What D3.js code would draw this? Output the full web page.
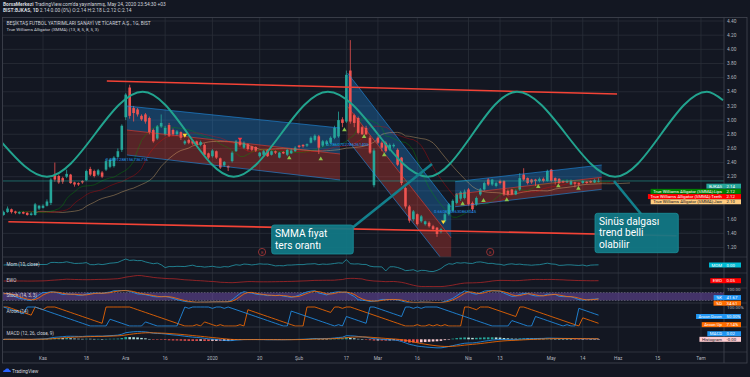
<!DOCTYPE html>
<html>
<head>
<meta charset="utf-8">
<script src="https://cdn.jsdelivr.net/npm/d3@7"></script>
<style>
  body { margin: 0; background: #131722; }
  text { font-family: Roboto, "Noto Sans", "DejaVu Sans", sans-serif; }
</style>
</head>
<body>
<svg id="chart" width="750" height="377"></svg>
<script>
// ---- data ----
const firstBar = -10; // bar index of the first candle (bar 0 = 1 Kas 2019)

// [open, high, low, close] for each daily bar
const ohlc = [
  [1.66,1.72,1.65,1.70],[1.70,1.78,1.69,1.75],[1.74,1.75,1.68,1.70],[1.71,1.72,1.67,1.69],
  [1.68,1.71,1.67,1.70],[1.70,1.71,1.67,1.68],[1.69,1.70,1.65,1.66],[1.66,1.70,1.65,1.68],
  [1.66,1.83,1.65,1.81],[1.75,1.80,1.73,1.79],[1.76,1.81,1.75,1.79],[1.79,1.88,1.78,1.85],
  [1.83,2.18,1.80,2.16],[2.22,2.40,2.13,2.16],[2.21,2.23,2.10,2.12],[2.18,2.20,2.10,2.13],
  [2.20,2.30,2.18,2.24],[2.23,2.24,2.10,2.11],[2.12,2.13,2.06,2.09],[2.11,2.12,2.07,2.09],
  [2.14,2.15,2.10,2.12],[2.15,2.30,2.14,2.28],[2.31,2.34,2.21,2.23],[2.28,2.30,2.19,2.21],
  [2.23,2.31,2.21,2.29],[2.26,2.28,2.18,2.20],[2.30,2.45,2.28,2.42],[2.34,2.46,2.32,2.44],
  [2.35,2.49,2.33,2.47],[2.48,2.60,2.46,2.56],[2.58,2.94,2.55,2.92],[3.04,3.38,3.00,3.36],
  [3.46,3.50,3.02,3.06],[3.17,3.20,2.98,3.10],[3.15,3.17,3.05,3.08],[3.06,3.08,2.99,3.01],
  [3.08,3.10,2.95,2.98],[3.03,3.05,2.80,2.83],[2.86,2.88,2.68,2.70],[2.74,2.93,2.72,2.91],
  [2.91,3.08,2.89,2.96],[2.80,2.92,2.78,2.89],[2.93,2.96,2.76,2.78],[2.86,2.88,2.78,2.80],
  [2.80,2.86,2.78,2.84],[2.83,2.84,2.72,2.75],[2.67,2.72,2.65,2.70],[2.72,2.74,2.66,2.68],
  [2.71,2.72,2.65,2.67],[2.70,2.71,2.63,2.65],[2.65,2.71,2.63,2.69],[2.65,2.67,2.49,2.51],
  [2.53,2.54,2.45,2.47],[2.49,2.59,2.47,2.57],[2.56,2.57,2.45,2.47],[2.46,2.47,2.31,2.33],
  [2.36,2.42,2.34,2.41],[2.35,2.36,2.28,2.33],[2.42,2.56,2.40,2.54],[2.56,2.72,2.55,2.70],
  [2.70,2.72,2.63,2.65],[2.61,2.70,2.59,2.68],[2.66,2.67,2.57,2.59],[2.63,2.64,2.56,2.58],
  [2.62,2.63,2.55,2.57],[2.49,2.55,2.47,2.54],[2.51,2.58,2.50,2.56],[2.58,2.59,2.48,2.49],
  [2.51,2.57,2.50,2.56],[2.56,2.57,2.52,2.54],[2.47,2.55,2.46,2.54],[2.55,2.56,2.52,2.53],
  [2.51,2.59,2.49,2.58],[2.53,2.60,2.52,2.57],[2.56,2.63,2.55,2.61],[2.64,2.65,2.60,2.62],
  [2.65,2.66,2.61,2.63],[2.64,2.67,2.62,2.66],[2.68,2.77,2.67,2.75],[2.72,2.80,2.70,2.78],
  [2.77,2.79,2.52,2.61],[2.64,2.72,2.62,2.70],[2.66,2.72,2.64,2.70],[2.68,2.77,2.66,2.75],
  [2.75,2.92,2.73,2.89],[2.77,3.12,2.75,3.00],[3.01,3.04,2.90,2.96],[2.98,3.70,2.96,3.64],
  [3.70,4.13,2.95,2.98],[3.07,3.09,2.90,2.96],[3.03,3.05,2.80,2.82],[2.90,2.92,2.79,2.80],
  [2.89,2.92,2.79,2.80],[2.75,2.78,2.52,2.54],[2.08,2.60,2.05,2.57],[2.75,2.77,2.66,2.68],
  [2.68,2.70,2.56,2.61],[2.68,2.70,2.54,2.56],[2.58,2.67,2.56,2.65],[2.63,2.67,2.61,2.65],
  [2.58,2.60,2.35,2.37],[2.47,2.48,2.08,2.11],[2.04,2.06,1.75,1.78],[1.78,1.80,1.55,1.58],
  [1.60,1.73,1.57,1.71],[1.67,1.68,1.51,1.53],[1.57,1.66,1.55,1.64],[1.53,1.58,1.51,1.57],
  [1.55,1.57,1.48,1.50],[1.50,1.52,1.44,1.46],[1.48,1.49,1.35,1.39],[1.42,1.48,1.40,1.46],
  [1.57,1.69,1.55,1.67],[1.67,1.83,1.65,1.81],[1.72,1.88,1.70,1.86],[1.83,1.97,1.81,1.95],
  [1.89,2.00,1.86,1.98],[1.90,2.02,1.88,1.99],[2.02,2.04,1.79,1.81],[1.83,1.85,1.72,1.74],
  [1.81,1.92,1.79,1.90],[1.95,2.04,1.93,2.02],[2.02,2.13,2.00,2.11],[2.16,2.18,2.07,2.09],
  [2.09,2.17,2.07,2.16],[2.07,2.13,2.05,2.11],[2.14,2.16,2.09,2.11],[2.14,2.15,1.93,1.95],
  [2.00,2.02,1.93,1.95],[2.02,2.03,1.94,1.95],[1.95,2.02,1.94,2.00],[2.02,2.25,2.00,2.18],
  [2.23,2.32,2.14,2.16],[2.18,2.19,2.09,2.11],[2.16,2.17,2.10,2.12],[2.16,2.17,2.07,2.14],
  [2.14,2.19,2.12,2.17],[2.17,2.19,2.12,2.14],[2.14,2.30,2.13,2.28],[2.30,2.31,2.12,2.14],
  [2.18,2.19,2.09,2.14],[2.17,2.18,2.10,2.11],[2.14,2.15,2.11,2.12],[2.12,2.16,2.11,2.14],
  [2.09,2.16,2.08,2.14],[2.12,2.13,2.05,2.10],[2.11,2.12,2.07,2.09],[2.11,2.15,2.10,2.14],
  [2.13,2.14,2.10,2.11],[2.14,2.15,2.11,2.12],[2.12,2.17,2.11,2.15],[2.14,2.18,2.12,2.14]
];

const timeLabels = ["Kas","18","Ara","16","2020","20","Şub","17","Mar","16","Nis","13","May","14","Haz","15","Tem"];
const timeBars   = [0, 11, 21, 31, 43, 55, 65, 77, 85, 95, 108, 116, 129, 137, 146, 156, 167];
const priceTicks = [4.4, 4.2, 4.0, 3.8, 3.6, 3.4, 3.2, 3.0, 2.8, 2.6, 2.4, 2.2, 2.0, 1.8, 1.6, 1.4, 1.2];

// sine-line drawing: its turning points [bar, price]
const sinePivots = [[-10.4,2.68],[1,2.2],[25.3,3.4],[48.4,2.2],[72.3,3.4],[97.7,2.2],[120.3,3.4],[145.2,2.2],[168.5,3.4],[172.6,3.28]];

// red trend lines [bar0, price0, bar1, price1]
const trendLines = [[16.2, 3.552, 145.7, 3.369], [-8.8, 1.564, 160.8, 1.367]];

// regression trend channels
const channels = [
  { b0: 21.3, b1: 75.4, top: [3.199, 2.888], mid: [2.860, 2.521], bot: [2.507, 2.154], r: "0.4691288156736716" },
  { b0: 77.3, b1: 103.6, top: [3.665, 1.772], mid: [3.192, 1.334], bot: [2.719, 0.868], r: "0.7860702786261405" },
  { b0: 104.6, b1: 141.8, top: [2.130, 2.366], mid: [1.952, 2.192], bot: [1.776, 2.022], r: "0.6608153630863045" }
];

// fractal marks [bar, price, kind]
const fractals = [
  [36, 2.789, "dy"], [50, 2.733, "dr"], [62.5, 2.464, "u"], [70.5, 2.450, "u"], [76.5, 2.860, "u"],
  [81.5, 2.765, "u"], [86.6, 2.507, "u"], [101.6, 1.564, "dy"], [106.5, 1.815, "u"], [111.8, 1.861, "u"],
  [117.7, 1.871, "u"], [125.7, 2.059, "u"], [130.8, 2.069, "u"], [135.9, 2.036, "u"]
];

const earningsBars = [55.6, 113.5];
const lastPrice = 2.14;

const mainTags = [
  ["BJKAS", "2.14", "#26a69a", "#ffffff"],
  ["True Williams Alligator (SMMA):Lips", "2.12", "#008000", "#ffffff"],
  ["True Williams Alligator (SMMA):Teeth", "2.12", "#ff0000", "#ffffff"],
  ["True Williams Alligator (SMMA):Jaw", "2.10", "#ffcc80", "#131722"]
];

// ---- layout ----
const svg = d3.select("#chart");
const L = 3, R = 724, TOP = 17.5, AXIS_Y = 352, BOTTOM = 363;
const up = "#26a69a", down = "#ef5350", grid = "#2a2e39", txt = "#b2b5be";

const x = d3.scaleLinear().domain([0, 141]).range([43, 43 + 141 * 3.94]);
const y = d3.scaleLinear().domain([1.2, 4.4]).range([247.5, 21]);

const panes = [
  { name: "Mom (10, close)", top: 257, bot: 273, scale: d3.scaleLinear().domain([-1.45, 1.45]).range([273, 257]) },
  { name: "EWO", top: 273, bot: 288, scale: d3.scaleLinear().domain([-1.2, 1.3]).range([288.2, 273.2]) },
  { name: "Stoch (14, 3, 3)", top: 288, bot: 303, scale: d3.scaleLinear().domain([0, 100]).range([303, 290]) },
  { name: "Aroon (14)", top: 303, bot: 327, scale: d3.scaleLinear().domain([0, 100]).range([326, 307]) },
  { name: "MACD (12, 26, close, 9)", top: 327, bot: 352, scale: d3.scaleLinear().domain([-0.5, 0.5]).range([351.8, 326.8]) }
];

svg.append("rect").attr("width", 750).attr("height", 377).attr("fill", "#131722");

const defs = svg.append("defs");
defs.append("clipPath").attr("id", "clipMain").append("rect")
  .attr("x", L).attr("y", TOP).attr("width", R - L).attr("height", 257 - TOP);
panes.forEach((p, k) => {
  defs.append("clipPath").attr("id", "clipP" + k).append("rect")
    .attr("x", L).attr("y", p.top).attr("width", R - L).attr("height", p.bot - p.top);
});

// header
const head = svg.append("g").attr("font-size", 4.9).attr("fill", "#d1d4dc");
const h1 = head.append("text").attr("x", 3).attr("y", 5.5);
h1.append("tspan").attr("font-weight", "bold").text("BorsaMerkezi");
h1.append("tspan").text(" TradingView.com'da yayınlanmış, May 24, 2020 23:54:30 +03");
const h2 = head.append("text").attr("x", 3).attr("y", 12);
h2.append("tspan").attr("font-weight", "bold").text("BIST:BJKAS, 1D");
h2.append("tspan").text(" 2.14 0.00 (0%) O:2.14 H:2.18 L:2.12 C:2.14");

// grid
const gGrid = svg.append("g");
gGrid.selectAll("line.v").data(timeBars).join("line").attr("class", "v")
  .attr("x1", d => x(d)).attr("x2", d => x(d)).attr("y1", TOP).attr("y2", AXIS_Y)
  .attr("stroke", grid).attr("stroke-width", 0.8);
gGrid.selectAll("line.h").data(priceTicks).join("line").attr("class", "h")
  .attr("x1", L).attr("x2", R).attr("y1", d => y(d)).attr("y2", d => y(d))
  .attr("stroke", grid).attr("stroke-width", 0.8);

// ---- indicators computed from the candles ----
const bars = ohlc.map((d, k) => ({ i: firstBar + k, o: d[0], h: d[1], l: d[2], c: d[3] }));
const closes = bars.map(d => d.c), highs = bars.map(d => d.h), lows = bars.map(d => d.l);
const hl2 = bars.map(d => (d.h + d.l) / 2);

function sma(src, n) { return src.map((v, k) => d3.mean(src.slice(Math.max(0, k - n + 1), k + 1))); }
function ema(src, n) {
  const a = 2 / (n + 1), out = [];
  src.forEach((v, k) => out.push(k === 0 ? v : a * v + (1 - a) * out[k - 1]));
  return out;
}
function smma(src, n) {
  const out = [];
  src.forEach((v, k) => out.push(k < n ? d3.mean(src.slice(0, k + 1)) : (out[k - 1] * (n - 1) + v) / n));
  return out;
}

const jaw = smma(hl2, 13), teeth = smma(hl2, 8), lips = smma(hl2, 5);
const mom = closes.map((c, k) => c - closes[Math.max(0, k - 10)]);
const sma5 = sma(closes, 5), sma35 = sma(closes, 35);
const ewo = sma5.map((v, k) => v - sma35[k]);
const rawK = closes.map((c, k) => {
  const hh = d3.max(highs.slice(Math.max(0, k - 13), k + 1));
  const ll = d3.min(lows.slice(Math.max(0, k - 13), k + 1));
  return hh === ll ? 50 : 100 * (c - ll) / (hh - ll);
});
const stochK = sma(rawK, 3), stochD = sma(stochK, 3);
const aroonUp = [], aroonDown = [];
bars.forEach((d, k) => {
  const s = Math.max(0, k - 14);
  let hi = s, lo = s;
  for (let j = s; j <= k; j++) {
    if (highs[j] >= highs[hi]) hi = j;
    if (lows[j] <= lows[lo]) lo = j;
  }
  aroonUp.push(100 * (14 - (k - hi)) / 14);
  aroonDown.push(100 * (14 - (k - lo)) / 14);
});
const ema12 = ema(closes, 12), ema26 = ema(closes, 26);
const macd = ema12.map((v, k) => v - ema26[k]);
const signal = ema(macd, 9);
const hist = macd.map((v, k) => v - signal[k]);

function seriesPath(g, values, scale, color, width, opacity, offset) {
  g.append("path")
    .datum(values.map((v, k) => [bars[k].i + (offset || 0), v]))
    .attr("d", d3.line().x(d => x(d[0])).y(d => scale(d[1])))
    .attr("fill", "none").attr("stroke", color)
    .attr("stroke-width", width).attr("stroke-opacity", opacity);
}

// ---- main pane ----
const main = svg.append("g").attr("clip-path", "url(#clipMain)");

// regression channels: fills
channels.forEach(ch => {
  const band = (a, b) => [[ch.b0, a[0]], [ch.b1, a[1]], [ch.b1, b[1]], [ch.b0, b[0]]]
    .map(p => [x(p[0]), y(p[1])]).join("L");
  main.append("path").attr("d", "M" + band(ch.top, ch.mid) + "Z").attr("fill", "rgba(33,150,243,0.3)");
  main.append("path").attr("d", "M" + band(ch.mid, ch.bot) + "Z").attr("fill", "rgba(244,67,54,0.3)");
});

// alligator
seriesPath(main, jaw, y, "#ffcc80", 0.8, 0.45, 8);
seriesPath(main, teeth, y, "#ff0000", 0.8, 0.4, 5);
seriesPath(main, lips, y, "#00a000", 0.8, 0.45, 3);

// candles
const gC = main.append("g");
gC.selectAll("line").data(bars).join("line")
  .attr("x1", d => x(d.i)).attr("x2", d => x(d.i))
  .attr("y1", d => y(d.h)).attr("y2", d => y(d.l))
  .attr("stroke", d => d.c >= d.o ? up : down).attr("stroke-width", 0.8);
gC.selectAll("rect").data(bars).join("rect")
  .attr("x", d => x(d.i) - 1.3).attr("width", 2.6)
  .attr("y", d => y(Math.max(d.o, d.c)))
  .attr("height", d => Math.max(0.7, Math.abs(y(d.o) - y(d.c))))
  .attr("fill", d => d.c >= d.o ? up : down);

// regression channel lines + pearson labels
channels.forEach(ch => {
  [["top", "#2196f3"], ["mid", "#f44336"], ["bot", "#2196f3"]].forEach(([k, col]) => {
    main.append("line").attr("x1", x(ch.b0)).attr("x2", x(ch.b1))
      .attr("y1", y(ch[k][0])).attr("y2", y(ch[k][1]))
      .attr("stroke", col).attr("stroke-width", 0.7).attr("stroke-opacity", 0.8);
  });
  main.append("text").attr("x", x(ch.b0)).attr("y", y(ch.bot[0]) + 6)
    .attr("text-anchor", "middle").attr("font-size", 4.3).attr("fill", "#2196f3").text(ch.r);
});

// last price line
main.append("line").attr("x1", L).attr("x2", R).attr("y1", y(lastPrice)).attr("y2", y(lastPrice))
  .attr("stroke", up).attr("stroke-width", 0.7).attr("stroke-opacity", 0.8);

// trend lines
main.selectAll("line.trend").data(trendLines).join("line").attr("class", "trend")
  .attr("x1", d => x(d[0])).attr("y1", d => y(d[1])).attr("x2", d => x(d[2])).attr("y2", d => y(d[3]))
  .attr("stroke", "#f44336").attr("stroke-width", 1.6);

// sine line
main.append("path").datum(sinePivots)
  .attr("d", d3.line().x(d => x(d[0])).y(d => y(d[1])).curve(d3.curveMonotoneX))
  .attr("fill", "none").attr("stroke", "#22a38e").attr("stroke-width", 2);

// fractals
const tri = d3.symbol().type(d3.symbolTriangle).size(9);
main.selectAll("path.fr").data(fractals).join("path").attr("class", "fr")
  .attr("d", tri)
  .attr("transform", d => `translate(${x(d[0])},${y(d[1])})${d[2] === "u" ? "" : " rotate(180)"}`)
  .attr("fill", d => d[2] === "u" ? "#8bc34a" : d[2] === "dy" ? "#fdd835" : "#f23645");

// earnings marks
const gE = main.selectAll("g.ev").data(earningsBars).join("g").attr("class", "ev")
  .attr("transform", d => `translate(${x(d)},252)`);
gE.append("circle").attr("r", 3.6).attr("fill", "#131722").attr("stroke", "#b03a3a").attr("stroke-width", 0.8);
gE.append("text").attr("y", 1.5).attr("text-anchor", "middle").attr("font-size", 4.2).attr("fill", "#b03a3a").text("E");

// legend
const leg = svg.append("g").attr("font-size", 4.8).attr("fill", "#d1d4dc");
leg.append("text").attr("x", 6.5).attr("y", 25).text("BEŞİKTAŞ FUTBOL YATIRIMLARI SANAYİ VE TİCARET A.Ş., 1G, BIST");
leg.append("text").attr("x", 6.5).attr("y", 30.5).attr("font-size", 4.4).text("True Williams Alligator (SMMA) (13, 8, 5, 8, 5, 3)");

// callouts
const callouts = [
  { lines: ["SMMA fiyat", "ters orantı"], box: [271.7, 225, 81.6, 29], text: [275, 237.3], ptr: [352, 228, 432, 164] },
  { lines: ["Sinüs dalgası", "trend belli", "olabilir"], box: [595, 213.3, 83.3, 39.4], text: [599, 224.5], ptr: [641, 214, 614, 181] }
];
callouts.forEach(c => {
  svg.append("line").attr("x1", c.ptr[0]).attr("y1", c.ptr[1]).attr("x2", c.ptr[2]).attr("y2", c.ptr[3])
    .attr("stroke", "#13808c").attr("stroke-width", 2.6);
  svg.append("rect").attr("x", c.box[0]).attr("y", c.box[1]).attr("width", c.box[2]).attr("height", c.box[3])
    .attr("rx", 2.5).attr("fill", "#117a86").attr("fill-opacity", 0.93).attr("stroke", "#1a8f9b").attr("stroke-width", 0.8);
  c.lines.forEach((s, k) => svg.append("text").attr("x", c.text[0]).attr("y", c.text[1] + k * 11.9)
    .attr("font-size", 10.2).attr("fill", "#ffffff").text(s));
});

// ---- indicator panes ----
const paneSeries = [
  [[mom, "#26a6b8", 0.8]],
  [[ewo, "#c62828", 0.75]],
  [[stochK, "#2196f3", 0.9], [stochD, "#ff6d00", 0.9]],
  [[aroonUp, "#ff6d00", 0.9], [aroonDown, "#2196f3", 0.9]],
  [[macd, "#2196f3", 0.9], [signal, "#ff6d00", 0.9]]
];
panes.forEach((p, k) => {
  const g = svg.append("g").attr("clip-path", `url(#clipP${k})`);
  if (k === 2) {
    g.append("rect").attr("x", L).attr("width", R - L).attr("y", p.scale(80)).attr("height", p.scale(20) - p.scale(80))
      .attr("fill", "rgba(126,87,194,0.45)");
    [80, 20].forEach(v => g.append("line").attr("x1", L).attr("x2", R).attr("y1", p.scale(v)).attr("y2", p.scale(v))
      .attr("stroke", "#787b86").attr("stroke-width", 0.6).attr("stroke-dasharray", "1.5,1.5"));
  }
  if (k === 4) {
    const z = p.scale(0);
    g.selectAll("rect.hist").data(hist).join("rect").attr("class", "hist")
      .attr("x", (v, j) => x(bars[j].i) - 1.3).attr("width", 2.6)
      .attr("y", v => Math.min(z, p.scale(v))).attr("height", v => Math.max(0.5, Math.abs(p.scale(v) - z)))
      .attr("fill", (v, j) => {
        const prev = j > 0 ? hist[j - 1] : v;
        return v >= 0 ? (prev < v ? "#26a69a" : "#b2dfdb") : (prev < v ? "#ffcdd2" : "#ef5350");
      });
  }
  paneSeries[k].forEach(([vals, col, w]) => seriesPath(g, vals, p.scale, col, w, 0.9));
  svg.append("text").attr("x", 6.5).attr("y", (k === 3 ? p.top + 9.5 : k === 4 ? p.top + 8 : p.top + 8.5))
    .attr("font-size", 4.6).attr("fill", "#d1d4dc").text(p.name);
});

// separators and axes
const sepYs = [257, 273, 288, 303, 327, AXIS_Y];
svg.selectAll("line.sep").data(sepYs).join("line").attr("class", "sep")
  .attr("x1", L).attr("x2", 747).attr("y1", d => d).attr("y2", d => d)
  .attr("stroke", "#363a45").attr("stroke-width", 0.8);
svg.append("line").attr("x1", R).attr("x2", R).attr("y1", TOP).attr("y2", BOTTOM).attr("stroke", "#434651").attr("stroke-width", 0.8);
svg.append("rect").attr("x", 2.5).attr("y", TOP).attr("width", 744.5).attr("height", BOTTOM - TOP)
  .attr("fill", "none").attr("stroke", "#434651").attr("stroke-width", 0.8);

// time axis
svg.append("g").selectAll("text").data(timeLabels).join("text")
  .attr("x", (d, k) => x(timeBars[k])).attr("y", 359.6).attr("text-anchor", "middle")
  .attr("font-size", 4.8).attr("fill", txt).text(d => d);

// value tags on the right
const TAG_H = 5.0;
function tag(cy, name, value, bg, fg) {
  const g = svg.append("g");
  const rect = g.append("rect");
  const t = g.append("text").attr("x", 722).attr("y", cy + 1.5).attr("text-anchor", "end")
    .attr("font-size", 4.3).attr("fill", fg).text(name);
  const w = t.node().getComputedTextLength();
  rect.attr("x", 722 - w - 2.5).attr("y", cy - TAG_H / 2).attr("width", 741 - (722 - w - 2.5)).attr("height", TAG_H).attr("fill", bg);
  g.append("text").attr("x", 726.5).attr("y", cy + 1.5).attr("font-size", 4.3).attr("fill", fg).text(value);
}
const mainTagYs = mainTags.map((d, k) => y(lastPrice) + 5.2 * (k + 1));

// price axis (labels hidden where the value tags cover them)
const fmt = d3.format(".2f");
svg.append("g").selectAll("text")
  .data(priceTicks.filter(p => mainTagYs.every(ty => Math.abs(y(p) - ty) > 6)))
  .join("text")
  .attr("x", 727).attr("y", d => y(d) + 1.7).attr("font-size", 4.8).attr("fill", txt).text(d => fmt(d));
svg.append("text").attr("x", 727).attr("y", panes[2].scale(100) + 1.2).attr("font-size", 4.4).attr("fill", txt).text("100.00");
svg.append("text").attr("x", 727).attr("y", panes[3].scale(100) + 1.7).attr("font-size", 4.4).attr("fill", txt).text("100.00%");

mainTags.forEach((d, k) => tag(mainTagYs[k], d[0], d[1], d[2], d[3]));

// [name, value, text, background, text colour, stays at its value?]
const paneTags = [
  [0, [["MOM", 0.00, "0.00", "#00bcd4", "#ffffff", 1]]],
  [1, [["EWO", 0.05, "0.05", "#ff0000", "#ffffff", 1]]],
  [2, [["%K", 41.67, "41.67", "#2196f3", "#ffffff", 1], ["%D", 34.61, "34.61", "#ff6d00", "#ffffff", 0]]],
  [3, [["Aroon Down", 50.0, "50.00%", "#2196f3", "#ffffff", 1], ["Aroon Up", 7.14, "7.14%", "#ff6d00", "#ffffff", 1]]],
  [4, [["MACD", 0.02, "0.02", "#2196f3", "#ffffff", 0], ["Histogram", -0.001, "-0.00", "#ffcdd2", "#131722", 1]]]
];
paneTags.forEach(([k, list]) => {
  const ys = list.map(d => panes[k].scale(d[1]));
  if (ys.length === 2 && Math.abs(ys[1] - ys[0]) < 5.6) {
    const fixed = list[0][5] ? 0 : 1, moved = 1 - fixed;
    ys[moved] = ys[fixed] + (moved === 1 ? 5.6 : -5.6);
  }
  list.forEach((d, j) => tag(ys[j], d[0], d[2], d[3], d[4]));
});

// footer logo
const logo = svg.append("g").attr("transform", "translate(3,368)");
logo.append("path").attr("d", "M0,4 Q0,2 2,2 Q2.5,0 4.5,0.5 Q6,0 6.3,2 Q8,2 8,4 Z").attr("fill", "#2962ff");
svg.append("text").attr("x", 12).attr("y", 372.5).attr("font-size", 4.8).attr("fill", "#d1d4dc").text("TradingView");
</script>
</body>
</html>
